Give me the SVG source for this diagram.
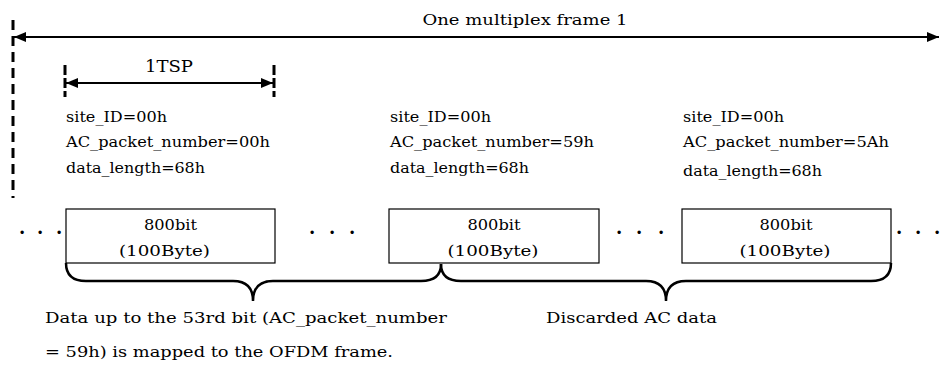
<svg xmlns="http://www.w3.org/2000/svg" width="940" height="365" viewBox="0 0 940 365">
<style>
  text { font-family: "DejaVu Serif", "Liberation Serif", serif; font-size: 15px; fill: #000; }
  .c { text-anchor: middle; }
  .line { stroke: #000; stroke-width: 2; fill: none; }
  .dash { stroke: #000; stroke-width: 3; stroke-dasharray: 10 6; fill: none; }
  .box { fill: #fff; stroke: #000; stroke-width: 1.2; }
  .brace { stroke: #000; stroke-width: 2.5; fill: none; }
  .dots { font-size: 18px; font-weight: bold; }
</style>
<defs>
  <marker id="ah" viewBox="0 0 12 10" refX="12" refY="5" markerWidth="12" markerHeight="10" markerUnits="userSpaceOnUse" orient="auto-start-reverse">
    <path d="M0,0 L12,5 L0,10 Z" fill="#000"/>
  </marker>
</defs>

<g id="frame-span">
  <line class="dash" x1="13" y1="20" x2="13" y2="198"/>
  <line class="line" x1="14" y1="37" x2="939" y2="37" marker-start="url(#ah)" marker-end="url(#ah)"/>
  <text class="c" x="525" y="25" textLength="205" lengthAdjust="spacingAndGlyphs">One multiplex frame 1</text>
</g>

<g id="tsp-span">
  <line class="dash" x1="65" y1="65" x2="65" y2="97" style="stroke-dasharray:10 3"/>
  <line class="dash" x1="274" y1="65" x2="274" y2="97" style="stroke-dasharray:10 3"/>
  <line class="line" x1="66" y1="83" x2="273" y2="83" marker-start="url(#ah)" marker-end="url(#ah)"/>
  <text class="c" x="169" y="72" textLength="48" lengthAdjust="spacingAndGlyphs" style="font-size:17px">1TSP</text>
</g>

<g id="label1">
  <text x="66" y="122" textLength="101" lengthAdjust="spacingAndGlyphs">site_ID=00h</text>
  <text x="66" y="147" textLength="204" lengthAdjust="spacingAndGlyphs">AC_packet_number=00h</text>
  <text x="66" y="173" textLength="139" lengthAdjust="spacingAndGlyphs">data_length=68h</text>
</g>
<g id="label2">
  <text x="390" y="122" textLength="101" lengthAdjust="spacingAndGlyphs">site_ID=00h</text>
  <text x="390" y="147" textLength="204" lengthAdjust="spacingAndGlyphs">AC_packet_number=59h</text>
  <text x="390" y="173" textLength="139" lengthAdjust="spacingAndGlyphs">data_length=68h</text>
</g>
<g id="label3">
  <text x="683" y="122" textLength="101" lengthAdjust="spacingAndGlyphs">site_ID=00h</text>
  <text x="683" y="147" textLength="206" lengthAdjust="spacingAndGlyphs">AC_packet_number=5Ah</text>
  <text x="683" y="176" textLength="139" lengthAdjust="spacingAndGlyphs">data_length=68h</text>
</g>

<g id="box1">
  <rect class="box" x="66" y="209" width="209" height="54"/>
  <text class="c" x="170.5" y="230" textLength="53" lengthAdjust="spacingAndGlyphs">800bit</text>
  <text class="c" x="164.5" y="256" textLength="91" lengthAdjust="spacingAndGlyphs">(100Byte)</text>
</g>
<g id="box2">
  <rect class="box" x="389" y="209" width="210" height="54"/>
  <text class="c" x="494" y="230" textLength="53" lengthAdjust="spacingAndGlyphs">800bit</text>
  <text class="c" x="493" y="256" textLength="91" lengthAdjust="spacingAndGlyphs">(100Byte)</text>
</g>
<g id="box3">
  <rect class="box" x="682" y="209" width="209" height="54"/>
  <text class="c" x="786" y="230" textLength="53" lengthAdjust="spacingAndGlyphs">800bit</text>
  <text class="c" x="785" y="256" textLength="91" lengthAdjust="spacingAndGlyphs">(100Byte)</text>
</g>

<g id="dots">
  <text class="dots" x="19 37 56" y="239">···</text>
  <text class="dots" x="309 329 349" y="239">···</text>
  <text class="dots" x="616 636 658" y="239">···</text>
  <text class="dots" x="896 915 934" y="239">···</text>
</g>

<g id="connectors">
  <path class="brace" d="M66,263 Q66,281 86,281 L233,281 Q253,281 253,301 Q253,281 273,281 L421,281 Q441,281 441,264"/>
  <path class="brace" d="M441,264 Q441,281 461,281 L646,281 Q666,281 666,301 Q666,281 686,281 L871,281 Q891,281 891,263"/>
</g>

<g id="notes">
  <text x="45" y="323" textLength="402" lengthAdjust="spacingAndGlyphs">Data up to the 53rd bit (AC_packet_number</text>
  <text x="45" y="357" textLength="348" lengthAdjust="spacingAndGlyphs">= 59h) is mapped to the OFDM frame.</text>
  <text x="546" y="323" textLength="171" lengthAdjust="spacingAndGlyphs">Discarded AC data</text>
</g>
</svg>
